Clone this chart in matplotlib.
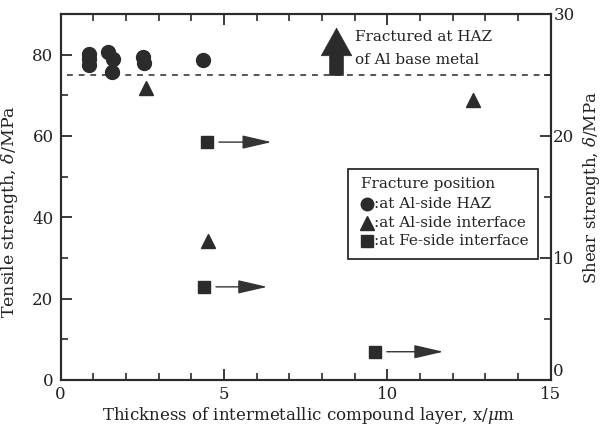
import matplotlib
matplotlib.use("Agg")
import matplotlib.pyplot as plt
from matplotlib.patches import Rectangle
from matplotlib.ticker import MultipleLocator, FuncFormatter

plt.rcParams['font.family'] = ['DejaVu Serif']
plt.rcParams['mathtext.fontset'] = 'dejavuserif'

# ---- data ----
haz_x = [0.87, 0.87, 0.87, 1.44, 1.62, 1.57, 2.53, 2.55, 4.37]
haz_y = [80.2, 78.9, 77.4, 80.7, 79.0, 75.7, 79.4, 77.9, 78.8]
alif_x = [2.62, 4.51, 12.62]
alif_y = [71.9, 34.2, 68.8]
feif_x = [4.49, 4.40, 9.63]
feif_y = [58.5, 22.9, 6.95]
feif_arrow_end = [6.46, 6.33, 11.72]
base_metal_level = 74.9
haz_arrow_x = 8.45
haz_arrow_top = 86.5

ink = '#2b2b2b'
txt = '#222222'

fig = plt.figure(figsize=(6.02, 4.26), dpi=100)
ax = fig.add_axes([60.5/602, 46/426, 490/602, 366/426])
ax.set_xlim(0, 15)
ax.set_ylim(0, 90)

# dashed line
ax.plot([0.19, 15], [base_metal_level]*2, ls=(0, (3, 3)), color='#555555', lw=1.4, zorder=1)

ax.plot(haz_x, haz_y, 'o', color=ink, ms=10, mec=ink, zorder=3)
ax.plot(alif_x, alif_y, '^', color=ink, ms=10, mec=ink, zorder=3)
ax.plot(feif_x, feif_y, 's', color=ink, ms=8.5, mec=ink, zorder=3)

for x0, y0, x1 in zip(feif_x, feif_y, feif_arrow_end):
    ax.annotate('', xy=(x1, y0), xytext=(x0 + 0.36, y0),
                arrowprops=dict(arrowstyle='-|>,head_length=1.3,head_width=0.3',
                                mutation_scale=14, color='#333333', lw=1.0,
                                shrinkA=0, shrinkB=0))

# big upward arrow
ax.annotate('', xy=(haz_arrow_x, haz_arrow_top), xytext=(haz_arrow_x, base_metal_level),
            arrowprops=dict(arrowstyle='simple,head_length=0.9,head_width=1.0,tail_width=0.45',
                            mutation_scale=22, fc=ink, ec=ink, lw=0.5, shrinkA=0, shrinkB=0))
ax.text(9.01, 84.3, 'Fractured at HAZ', fontsize=11, va='center', ha='left', color=txt)
ax.text(9.01, 78.6, 'of Al base metal', fontsize=11, va='center', ha='left', color=txt)

# legend box
ax.add_patch(Rectangle((8.81, 29.7), 5.82, 22.3, fill=False, ec=ink, lw=1.3, zorder=4))
ax.text(9.19, 48.3, 'Fracture position', fontsize=11, va='center', ha='left', color=txt)
leg_y = [43.2, 38.6, 34.2]
leg_m = ['o', '^', 's']
leg_t = [':at Al-side HAZ', ':at Al-side interface', ':at Fe-side interface']
leg_ms = [9.0, 9.5, 8.5]
for yy, mk, tt, mz in zip(leg_y, leg_m, leg_t, leg_ms):
    ax.plot([9.37], [yy], mk, color=ink, ms=mz, zorder=5)
    ax.text(9.6, yy, tt, fontsize=11, va='center', ha='left', color=txt)

# axes styling
for s in ax.spines.values():
    s.set_linewidth(1.5)
    s.set_color(ink)
ax.xaxis.set_major_locator(MultipleLocator(5))
ax.xaxis.set_minor_locator(MultipleLocator(1))
ax.yaxis.set_major_locator(MultipleLocator(20))
ax.yaxis.set_minor_locator(MultipleLocator(10))
ax.tick_params(which='both', direction='in', top=True, right=False, color=ink,
               labelsize=12, labelcolor=txt)
ax.tick_params(which='major', length=8, width=1.3)
ax.tick_params(which='minor', length=5, width=1.2)
ax.tick_params(axis='x', pad=4)
ax.tick_params(axis='y', pad=5)
ax.set_xlabel(r'Thickness of intermetallic compound layer, x/$\mu$m', fontsize=12, color=txt)
ax.xaxis.set_label_coords(0.506, -0.067)
ax.set_ylabel(r'Tensile strength, $\delta$/MPa', fontsize=12.5, color=txt)
ax.yaxis.set_label_coords(-0.083, 0.459)

ax2 = ax.twinx()
ax2.set_ylim(0, 30)
ax2.yaxis.set_major_locator(MultipleLocator(10))
ax2.yaxis.set_minor_locator(MultipleLocator(5))
ax2.yaxis.set_major_formatter(FuncFormatter(lambda v, p: '' if v == 0 else f'{v:.0f}'))
ax2.tick_params(which='both', direction='in', color=ink, labelsize=12, labelcolor=txt, pad=2)
ax2.tick_params(which='major', length=8, width=1.3)
ax2.tick_params(which='minor', length=5, width=1.2)
for s in ax2.spines.values():
    s.set_linewidth(1.5)
    s.set_color(ink)
ax2.text(1.004, 0.022, '0', transform=ax2.transAxes, fontsize=12, color=txt, ha='left', va='center')
ax2.set_ylabel(r'Shear strength, $\delta$/MPa', fontsize=12, color=txt)
ax2.yaxis.set_label_coords(1.062, 0.525)

fig.savefig('out.png', dpi=100)
